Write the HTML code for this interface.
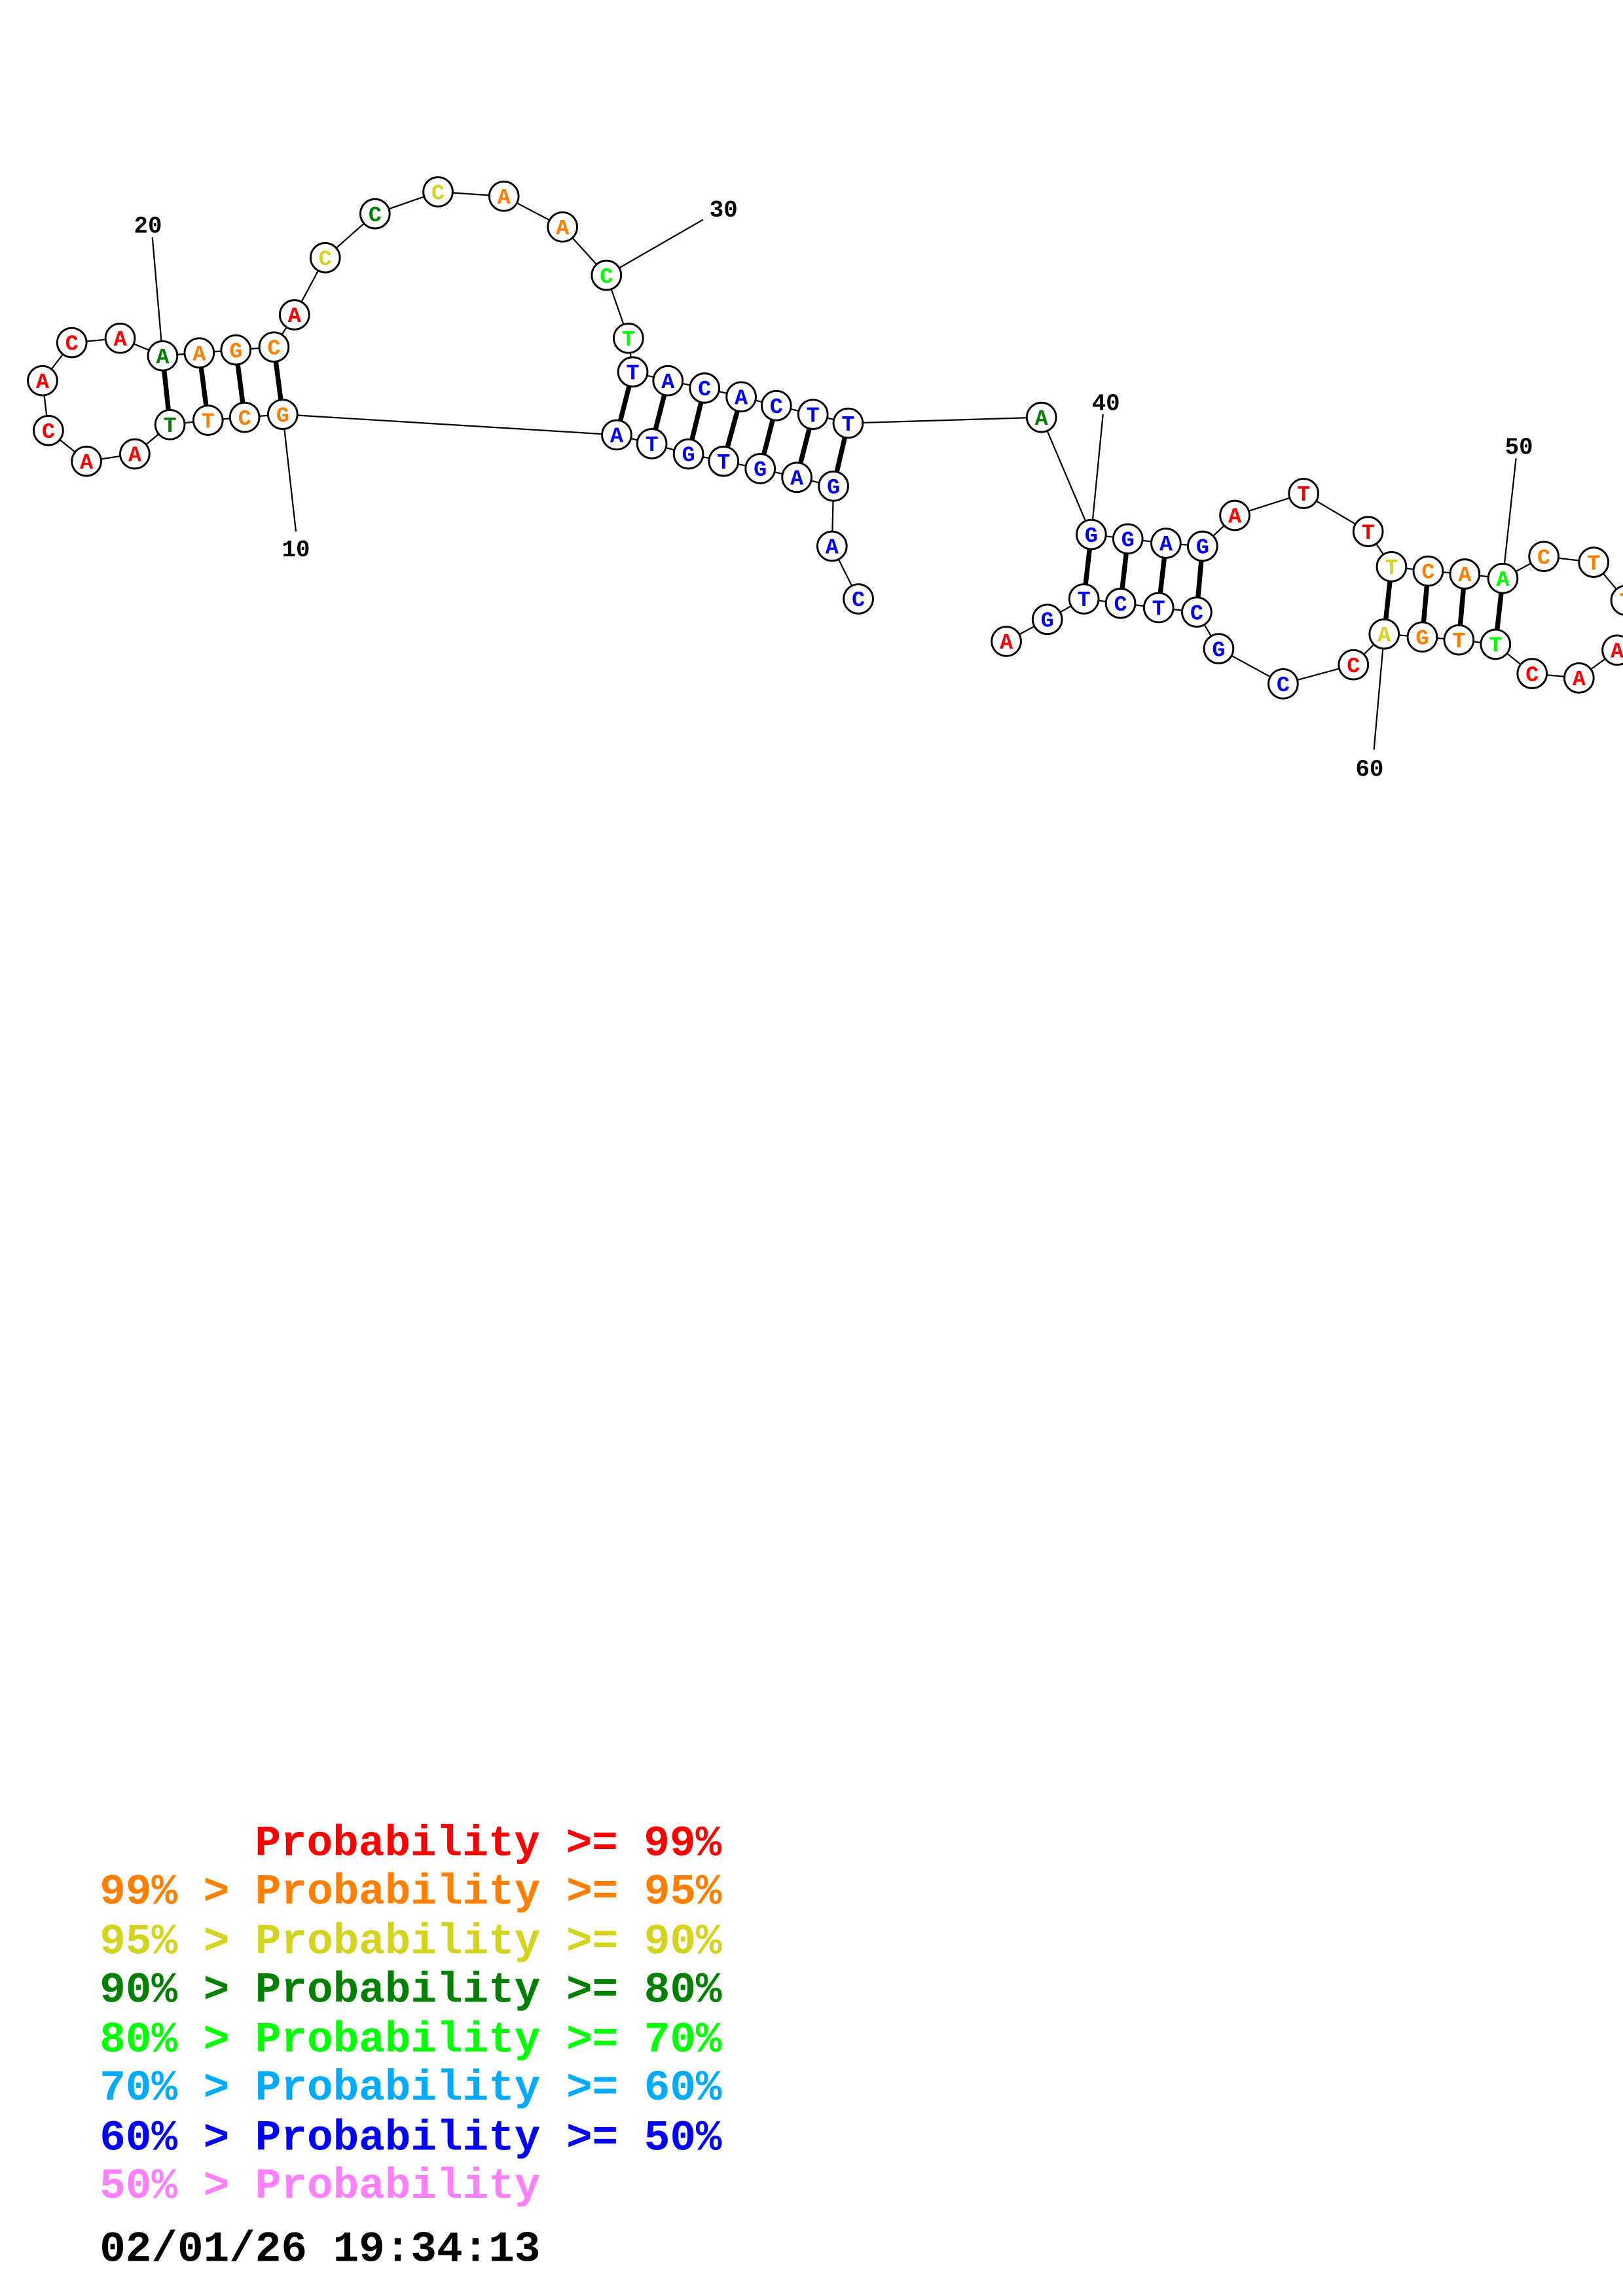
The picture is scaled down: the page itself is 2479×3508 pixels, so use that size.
<!DOCTYPE html>
<html><head><meta charset="utf-8"><style>
html,body{margin:0;padding:0;background:#fff;width:2479px;height:3508px;overflow:hidden}
svg{display:block}
.n circle{fill:#fff;stroke:#000;stroke-width:1.3}
.n text{font-family:"Liberation Mono",monospace;font-weight:bold;font-size:15px;text-anchor:middle}
.lb{font-family:"Liberation Mono",monospace;font-weight:bold;font-size:16px;text-anchor:middle;fill:#000}
.lg{font-family:"Liberation Mono",monospace;font-weight:bold;font-size:29.5px}
</style></head><body>
<svg width="2479" height="3508" viewBox="0 0 1108 1568" xmlns="http://www.w3.org/2000/svg">
<g stroke="#000" stroke-width="1" fill="none">
<polyline points="586,409 568,373 569,332 544,326 519,320 494,315 470,310 445,303 421,297 193,283 167,285 142,287 116,290 92,310 59,315 33,294 29,260 49,234 82,231 111,243 136,241 161,239 187,237 201,215 222,176 256,146 299,131 344,134 384,155 414,188 429,231 432,254 456,260 481,265 506,271 530,277 555,283 579,289 711,285 745,365 770,368 796,371 821,373 843,352 890,337 934,363 950,387 975,390 1000,392 1026,395 1054,380 1088,384 1110,410 1112,440 1104,444 1078,463 1046,460 1021,440 996,437 971,435 945,433 924,454 876,467 832,443 817,418 791,415 765,412 740,409 715,423 687,438"/>
<line x1="104" y1="162" x2="111" y2="243"/>
<line x1="193" y1="283" x2="202" y2="363"/>
<line x1="480" y1="150" x2="414" y2="188"/>
<line x1="753" y1="283" x2="745" y2="365"/>
<line x1="1035" y1="313" x2="1026" y2="395"/>
<line x1="938" y1="512" x2="945" y2="433"/>
</g>
<g stroke="#000" stroke-width="3.3">
<line x1="569" y1="332" x2="579" y2="289"/><line x1="544" y1="326" x2="555" y2="283"/><line x1="519" y1="320" x2="530" y2="277"/><line x1="494" y1="315" x2="506" y2="271"/><line x1="470" y1="310" x2="481" y2="265"/><line x1="445" y1="303" x2="456" y2="260"/><line x1="421" y1="297" x2="432" y2="254"/>
<line x1="193" y1="283" x2="187" y2="237"/><line x1="167" y1="285" x2="161" y2="239"/><line x1="142" y1="287" x2="136" y2="241"/><line x1="116" y1="290" x2="111" y2="243"/>
<line x1="745" y1="365" x2="740" y2="409"/><line x1="770" y1="368" x2="765" y2="412"/><line x1="796" y1="371" x2="791" y2="415"/><line x1="821" y1="373" x2="817" y2="418"/>
<line x1="950" y1="387" x2="945" y2="433"/><line x1="975" y1="390" x2="971" y2="435"/><line x1="1000" y1="392" x2="996" y2="437"/><line x1="1026" y1="395" x2="1021" y2="440"/>
</g>
<g class="n">
<circle cx="586" cy="409" r="10"/><text x="586" y="414" fill="#0000ff">C</text>
<circle cx="568" cy="373" r="10"/><text x="568" y="378" fill="#0000ff">A</text>
<circle cx="569" cy="332" r="10"/><text x="569" y="337" fill="#0000ff">G</text>
<circle cx="544" cy="326" r="10"/><text x="544" y="331" fill="#0000ff">A</text>
<circle cx="519" cy="320" r="10"/><text x="519" y="325" fill="#0000ff">G</text>
<circle cx="494" cy="315" r="10"/><text x="494" y="320" fill="#0000ff">T</text>
<circle cx="470" cy="310" r="10"/><text x="470" y="315" fill="#0000ff">G</text>
<circle cx="445" cy="303" r="10"/><text x="445" y="308" fill="#0000ff">T</text>
<circle cx="421" cy="297" r="10"/><text x="421" y="302" fill="#0000ff">A</text>
<circle cx="193" cy="283" r="10"/><text x="193" y="288" fill="#ff8000">G</text>
<circle cx="167" cy="285" r="10"/><text x="167" y="290" fill="#ff8000">C</text>
<circle cx="142" cy="287" r="10"/><text x="142" y="292" fill="#ff8000">T</text>
<circle cx="116" cy="290" r="10"/><text x="116" y="295" fill="#008000">T</text>
<circle cx="92" cy="310" r="10"/><text x="92" y="315" fill="#ff0000">A</text>
<circle cx="59" cy="315" r="10"/><text x="59" y="320" fill="#ff0000">A</text>
<circle cx="33" cy="294" r="10"/><text x="33" y="299" fill="#ff0000">C</text>
<circle cx="29" cy="260" r="10"/><text x="29" y="265" fill="#ff0000">A</text>
<circle cx="49" cy="234" r="10"/><text x="49" y="239" fill="#ff0000">C</text>
<circle cx="82" cy="231" r="10"/><text x="82" y="236" fill="#ff0000">A</text>
<circle cx="111" cy="243" r="10"/><text x="111" y="248" fill="#008000">A</text>
<circle cx="136" cy="241" r="10"/><text x="136" y="246" fill="#ff8000">A</text>
<circle cx="161" cy="239" r="10"/><text x="161" y="244" fill="#ff8000">G</text>
<circle cx="187" cy="237" r="10"/><text x="187" y="242" fill="#ff8000">C</text>
<circle cx="201" cy="215" r="10"/><text x="201" y="220" fill="#ff0000">A</text>
<circle cx="222" cy="176" r="10"/><text x="222" y="181" fill="#d4d420">C</text>
<circle cx="256" cy="146" r="10"/><text x="256" y="151" fill="#008000">C</text>
<circle cx="299" cy="131" r="10"/><text x="299" y="136" fill="#d4d420">C</text>
<circle cx="344" cy="134" r="10"/><text x="344" y="139" fill="#ff8000">A</text>
<circle cx="384" cy="155" r="10"/><text x="384" y="160" fill="#ff8000">A</text>
<circle cx="414" cy="188" r="10"/><text x="414" y="193" fill="#00ff00">C</text>
<circle cx="429" cy="231" r="10"/><text x="429" y="236" fill="#00ff00">T</text>
<circle cx="432" cy="254" r="10"/><text x="432" y="259" fill="#0000ff">T</text>
<circle cx="456" cy="260" r="10"/><text x="456" y="265" fill="#0000ff">A</text>
<circle cx="481" cy="265" r="10"/><text x="481" y="270" fill="#0000ff">C</text>
<circle cx="506" cy="271" r="10"/><text x="506" y="276" fill="#0000ff">A</text>
<circle cx="530" cy="277" r="10"/><text x="530" y="282" fill="#0000ff">C</text>
<circle cx="555" cy="283" r="10"/><text x="555" y="288" fill="#0000ff">T</text>
<circle cx="579" cy="289" r="10"/><text x="579" y="294" fill="#0000ff">T</text>
<circle cx="711" cy="285" r="10"/><text x="711" y="290" fill="#008000">A</text>
<circle cx="745" cy="365" r="10"/><text x="745" y="370" fill="#0000ff">G</text>
<circle cx="770" cy="368" r="10"/><text x="770" y="373" fill="#0000ff">G</text>
<circle cx="796" cy="371" r="10"/><text x="796" y="376" fill="#0000ff">A</text>
<circle cx="821" cy="373" r="10"/><text x="821" y="378" fill="#0000ff">G</text>
<circle cx="843" cy="352" r="10"/><text x="843" y="357" fill="#ff0000">A</text>
<circle cx="890" cy="337" r="10"/><text x="890" y="342" fill="#ff0000">T</text>
<circle cx="934" cy="363" r="10"/><text x="934" y="368" fill="#ff0000">T</text>
<circle cx="950" cy="387" r="10"/><text x="950" y="392" fill="#d4d420">T</text>
<circle cx="975" cy="390" r="10"/><text x="975" y="395" fill="#ff8000">C</text>
<circle cx="1000" cy="392" r="10"/><text x="1000" y="397" fill="#ff8000">A</text>
<circle cx="1026" cy="395" r="10"/><text x="1026" y="400" fill="#00ff00">A</text>
<circle cx="1054" cy="380" r="10"/><text x="1054" y="385" fill="#ff8000">C</text>
<circle cx="1088" cy="384" r="10"/><text x="1088" y="389" fill="#ff8000">T</text>
<circle cx="1110" cy="410" r="10"/><text x="1110" y="415" fill="#ff8000">T</text>
<circle cx="1104" cy="444" r="10"/><text x="1104" y="449" fill="#ff0000">A</text>
<circle cx="1078" cy="463" r="10"/><text x="1078" y="468" fill="#ff0000">A</text>
<circle cx="1046" cy="460" r="10"/><text x="1046" y="465" fill="#ff0000">C</text>
<circle cx="1021" cy="440" r="10"/><text x="1021" y="445" fill="#00ff00">T</text>
<circle cx="996" cy="437" r="10"/><text x="996" y="442" fill="#ff8000">T</text>
<circle cx="971" cy="435" r="10"/><text x="971" y="440" fill="#ff8000">G</text>
<circle cx="945" cy="433" r="10"/><text x="945" y="438" fill="#d4d420">A</text>
<circle cx="924" cy="454" r="10"/><text x="924" y="459" fill="#ff0000">C</text>
<circle cx="876" cy="467" r="10"/><text x="876" y="472" fill="#0000ff">C</text>
<circle cx="832" cy="443" r="10"/><text x="832" y="448" fill="#0000ff">G</text>
<circle cx="817" cy="418" r="10"/><text x="817" y="423" fill="#0000ff">C</text>
<circle cx="791" cy="415" r="10"/><text x="791" y="420" fill="#0000ff">T</text>
<circle cx="765" cy="412" r="10"/><text x="765" y="417" fill="#0000ff">C</text>
<circle cx="740" cy="409" r="10"/><text x="740" y="414" fill="#0000ff">T</text>
<circle cx="715" cy="423" r="10"/><text x="715" y="428" fill="#0000ff">G</text>
<circle cx="687" cy="438" r="10"/><text x="687" y="443" fill="#ff0000">A</text>
</g>
<text class="lb" x="101" y="159">20</text>
<text class="lb" x="202" y="380">10</text>
<text class="lb" x="494" y="148">30</text>
<text class="lb" x="755" y="280">40</text>
<text class="lb" x="1037" y="310">50</text>
<text class="lb" x="935" y="530">60</text>
<g class="lg">
<text x="174" y="1267" fill="#ff0000">Probability &gt;= 99%</text>
<text x="68" y="1300" fill="#ff8000">99% &gt; Probability &gt;= 95%</text>
<text x="68" y="1334" fill="#d4d420">95% &gt; Probability &gt;= 90%</text>
<text x="68" y="1367" fill="#008000">90% &gt; Probability &gt;= 80%</text>
<text x="68" y="1401" fill="#00ff00">80% &gt; Probability &gt;= 70%</text>
<text x="68" y="1434" fill="#00aaff">70% &gt; Probability &gt;= 60%</text>
<text x="68" y="1468" fill="#0000ff">60% &gt; Probability &gt;= 50%</text>
<text x="68" y="1501" fill="#ff80ff">50% &gt; Probability</text>
<text x="68" y="1544" fill="#000">02/01/26 19:34:13</text>
</g>
</svg>
</body></html>
